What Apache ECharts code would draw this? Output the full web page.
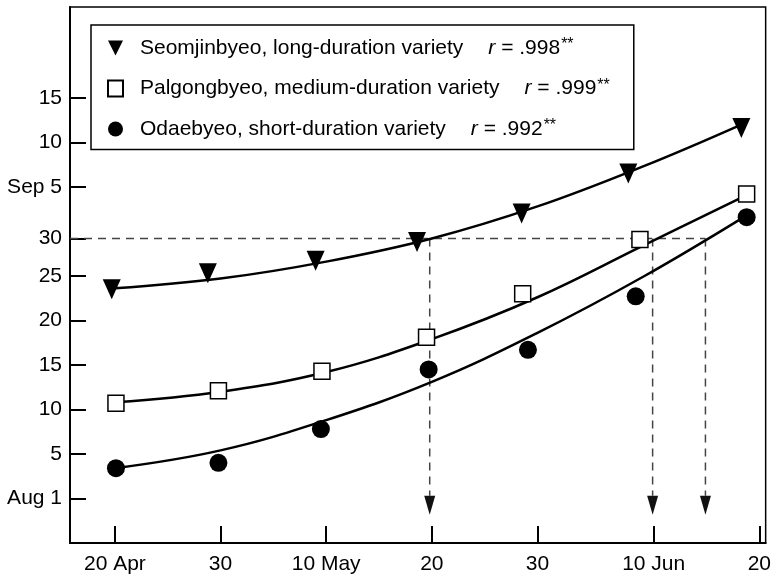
<!DOCTYPE html>
<html>
<head>
<meta charset="utf-8">
<script src="https://cdn.jsdelivr.net/npm/echarts@6/dist/echarts.min.js"></script>
<style>
html,body{margin:0;padding:0;background:#fff;}
#chart{width:774px;height:579px;}
</style>
</head>
<body>
<div id="chart"></div>
<script>
// ---- tick labels ----
const xTickDays = [0, 10, 20, 30, 40, 51, 61];           // days after 20 Apr
const xTickLabels = ['20 Apr', '30', '10 May', '20', '30', '10 Jun', '20'];
const yTickValues = [0, 5, 10, 15, 20, 25, 29.2, 35, 40, 45];
const yTickLabels = ['Aug 1', '5', '10', '15', '20', '25', '30', 'Sep 5', '10', '15'];

// ---- observed points (x: days after 20 Apr, y: heading date units) ----
const seomDays = [-0.3, 8.8, 19.0, 28.6, 38.5, 48.6, 59.3];
const seomVals = [23.5, 25.3, 26.7, 28.8, 32.0, 36.5, 41.6];
const palDays  = [0.1, 9.8, 19.6, 29.5, 38.6, 49.7, 59.8];
const palVals  = [10.7, 12.1, 14.3, 18.1, 23.0, 29.1, 34.2];
const odaDays  = [0.1, 9.8, 19.5, 29.7, 39.1, 49.3, 59.8];
const odaVals  = [3.4, 4.0, 7.8, 14.5, 16.7, 22.7, 31.6];

// ---- fitted curves ----
const seomCurveDays = [0, 10, 20, 30, 40, 50, 59.3];
const seomCurve     = [23.6, 24.7, 26.6, 29.2, 32.8, 37.3, 42.0];
const palCurveDays  = [0, 10, 20, 30, 40, 50, 59.5];
const palCurve      = [10.8, 12.0, 14.2, 17.9, 22.6, 28.4, 33.9];
const odaCurveDays  = [0, 10, 20, 30, 40, 50, 59.8];
const odaCurve      = [3.4, 5.4, 8.8, 13.1, 18.6, 24.9, 31.8];

// ---- legend ----
const seriesNames = ['Seomjinbyeo, long-duration variety', 'Palgongbyeo, medium-duration variety', 'Odaebyeo, short-duration variety'];
const rValues = ['.998', '.999', '.992'];

// ---- guide lines ----
const thresholdValue = 29.2;
const arrowDays = [29.8, 50.9, 55.9];
const arrowTop = 0.3;
const arrowHeadValue = -0.75;

const X_MIN = -4.25, X_MAX = 61.6, Y_MIN = -5, Y_MAX = 55.2;
const FONT = '"Liberation Sans", Arial, Helvetica, sans-serif';
const FS = 21;
const zip = (a, b) => a.map((v, i) => [v, b[i]]);
const triDown = 'path://M0,0 L10,0 L5,10 Z';

const chart = echarts.init(document.getElementById('chart'), null, {renderer: 'canvas'});

const dashStyle = {color: '#444', width: 1.5, type: [8, 6]};

const series = [
  {type: 'line', name: 'c1', data: zip(seomCurveDays, seomCurve), smooth: 0.4, symbol: 'none', lineStyle: {color: '#000', width: 2.5}, z: 3, silent: true},
  {type: 'line', name: 'c2', data: zip(palCurveDays, palCurve), smooth: 0.4, symbol: 'none', lineStyle: {color: '#000', width: 2.5}, z: 3, silent: true},
  {type: 'line', name: 'c3', data: zip(odaCurveDays, odaCurve), smooth: 0.4, symbol: 'none', lineStyle: {color: '#000', width: 2.5}, z: 3, silent: true},
  {type: 'line', name: 'thr', data: [[X_MIN, thresholdValue], [arrowDays[arrowDays.length - 1], thresholdValue]], symbol: 'none', lineStyle: dashStyle, z: 2, silent: true},
];
arrowDays.forEach((d, i) => {
  series.push({type: 'line', name: 'arr' + i, data: [[d, thresholdValue], [d, arrowTop]], symbol: 'none', lineStyle: dashStyle, z: 2, silent: true});
});
series.push({type: 'scatter', name: 'heads', data: arrowDays.map(d => [d, arrowHeadValue]), symbol: triDown, symbolSize: [11, 19], itemStyle: {color: '#111', opacity: 1}, z: 4, silent: true});
series.push(
  {type: 'scatter', name: seriesNames[0], data: zip(seomDays, seomVals), symbol: triDown, symbolSize: [18, 20], itemStyle: {color: '#000', opacity: 1}, z: 5},
  {type: 'scatter', name: seriesNames[1], data: zip(palDays, palVals), symbol: 'rect', symbolSize: 16, itemStyle: {color: '#fff', borderColor: '#000', borderWidth: 1.5, opacity: 1}, z: 5},
  {type: 'scatter', name: seriesNames[2], data: zip(odaDays, odaVals), symbol: 'circle', symbolSize: 18, itemStyle: {color: '#000', opacity: 1}, z: 5}
);

chart.setOption({
  animation: false,
  backgroundColor: '#fff',
  grid: {left: 70, right: 7, top: 7, bottom: 36, show: true, borderColor: '#000', borderWidth: 1.5, backgroundColor: 'transparent'},
  legend: {
    data: seriesNames.map((n, i) => ({name: n, icon: i === 0 ? triDown : (i === 1 ? 'rect' : 'circle')})),
    orient: 'vertical', left: 91, top: 25,
    itemWidth: 15, itemHeight: 16, itemGap: 19,
    padding: [12, 24, 10, 16],
    borderColor: '#000', borderWidth: 1.5, backgroundColor: '#fff',
    selectedMode: false,
    formatter: name => {
      const i = seriesNames.indexOf(name);
      return '{t|' + name + '}{r|r}{v| = ' + rValues[i] + '}{s|**}';
    },
    textStyle: {
      fontFamily: FONT, fontSize: FS, color: '#000',
      rich: {
        t: {fontFamily: FONT, fontSize: FS, color: '#000', padding: [0, 0, 0, 12]},
        r: {fontFamily: FONT, fontSize: FS, color: '#000', fontStyle: 'italic', padding: [0, 0, 0, 25]},
        v: {fontFamily: FONT, fontSize: FS, color: '#000'},
        s: {fontFamily: FONT, fontSize: 16, color: '#000', padding: [0, 0, 6, 1]}
      }
    }
  },
  xAxis: {
    type: 'value', min: X_MIN, max: X_MAX,
    axisLine: {show: true, onZero: false, lineStyle: {color: '#000', width: 2}},
    axisTick: {show: true, inside: true, length: 17, customValues: xTickDays, lineStyle: {color: '#000', width: 2}},
    axisLabel: {customValues: xTickDays, margin: 11, fontFamily: FONT, fontSize: FS, color: '#000',
      formatter: v => { const i = xTickDays.indexOf(v); return i >= 0 ? xTickLabels[i] : ''; }},
    splitLine: {show: false}
  },
  yAxis: {
    type: 'value', min: Y_MIN, max: Y_MAX,
    axisLine: {show: true, onZero: false, lineStyle: {color: '#000', width: 2}},
    axisTick: {show: true, inside: true, length: 16, customValues: yTickValues, lineStyle: {color: '#000', width: 2}},
    axisLabel: {customValues: yTickValues, margin: 8, fontFamily: FONT, fontSize: FS, color: '#000',
      formatter: v => { const i = yTickValues.indexOf(v); return i >= 0 ? yTickLabels[i] : ''; }},
    splitLine: {show: false}
  },
  series: series
});
</script>
</body>
</html>
